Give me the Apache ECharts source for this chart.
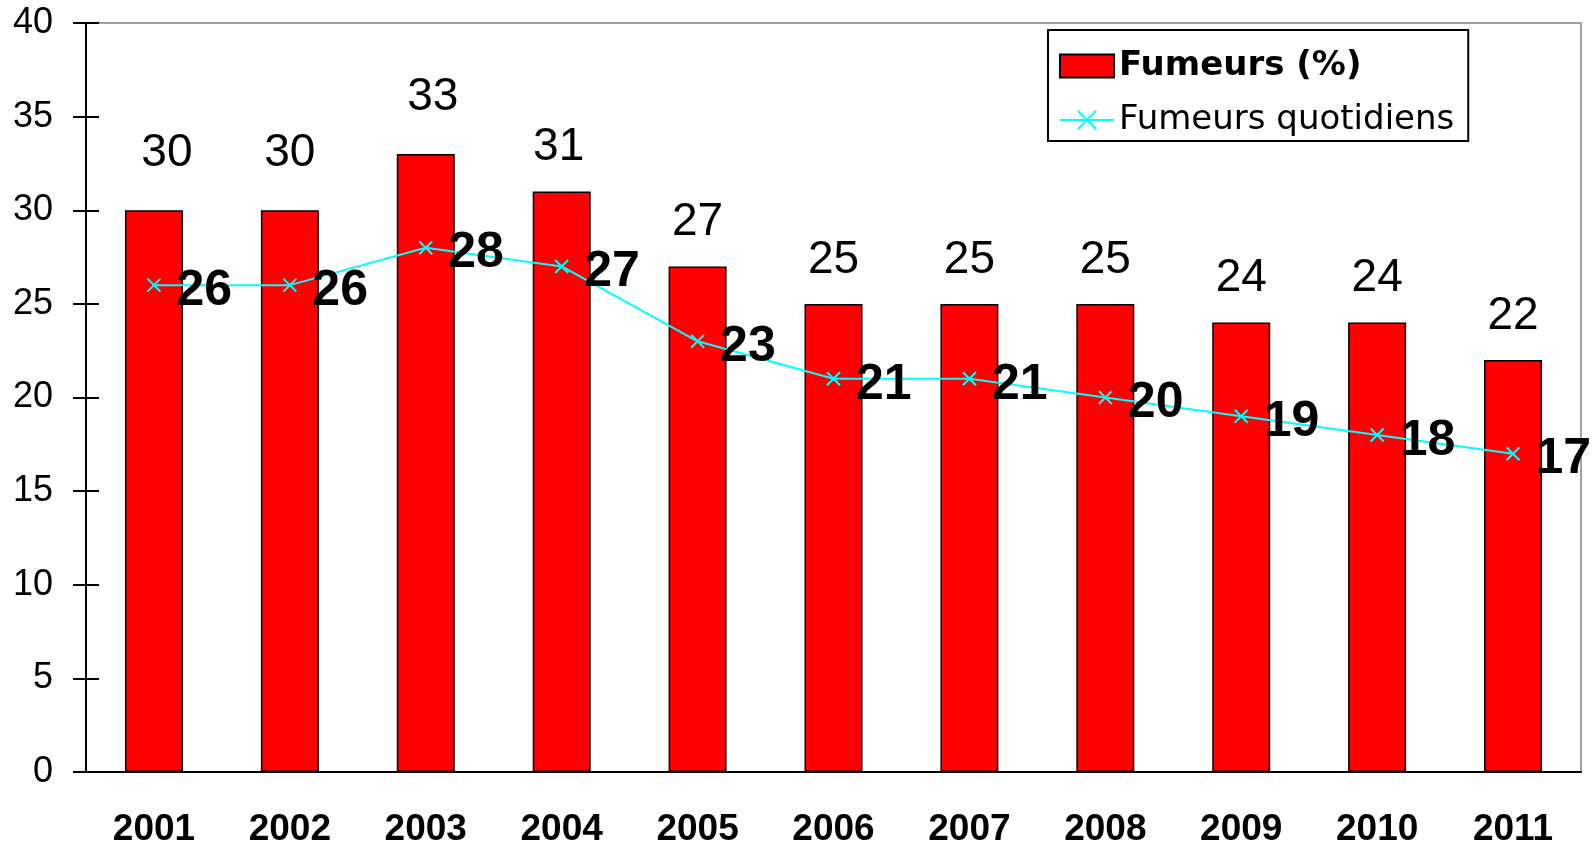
<!DOCTYPE html>
<html>
<head>
<meta charset="utf-8">
<script src="https://cdn.jsdelivr.net/npm/echarts@6/dist/echarts.min.js"></script>
<style>
  html, body { margin: 0; padding: 0; background: #fff; }
  #chart { width: 1593px; height: 848px; }
</style>
</head>
<body>
<div id="chart"></div>
<script>
var years = ['2001', '2002', '2003', '2004', '2005', '2006', '2007', '2008', '2009', '2010', '2011']
var fumeurs = [30, 30, 33, 31, 27, 25, 25, 25, 24, 24, 22]
var quotidiens = [26, 26, 28, 27, 23, 21, 21, 20, 19, 18, 17]

// label nudges as placed in the original (pixels)
var barLabelShift = [[13, -13], [0, -13], [7, -13], [-3, 0], [0, 0], [0, 0], [0, 0], [0, 0], [0, 0], [0, 0], [0, 0]]

var font = '"Liberation Sans", Arial, sans-serif'
var myChart = echarts.init(document.getElementById('chart'))

var barData = fumeurs.map(function (v, i) {
  return { value: v, label: { offset: barLabelShift[i] } }
})

var option = {
  animation: false,
  backgroundColor: '#fff',
  grid: {
    left: 86,
    right: 12,
    top: 23,
    bottom: 76,
    show: true,
    borderColor: '#a0a0a0',
    borderWidth: 2
  },
  legend: {
    orient: 'vertical',
    left: 1048,
    top: 30,
    padding: [19, 14, 4, 11],
    itemGap: 20,
    itemWidth: 54,
    itemHeight: 23,
    itemTextGap: 22,
    borderColor: '#000',
    borderWidth: 2,
    backgroundColor: '#fff',
    textStyle: {
      fontFamily: '"DejaVu Sans", sans-serif',
      fontSize: 34,
      lineHeight: 34,
      color: '#000'
    },
    data: [
      { name: 'Fumeurs (%)', icon: 'rect', textStyle: { fontWeight: 'bold' } },
      { name: 'Fumeurs quotidiens' }
    ]
  },
  xAxis: [
    {
      type: 'category',
      data: years,
      axisLine: { lineStyle: { color: '#000', width: 2 } },
      axisTick: { length: 13, lineStyle: { color: '#000', width: 2 } },
      axisLabel: {
        margin: 39,
        fontFamily: font,
        fontSize: 37,
        fontWeight: 'bold',
        color: '#000'
      }
    },
    {
      type: 'category',
      data: years,
      position: 'bottom',
      axisLine: { show: false },
      axisTick: { inside: true, length: 12, lineStyle: { color: '#000', width: 2 } },
      axisLabel: { show: false }
    }
  ],
  yAxis: [
    {
      type: 'value',
      min: 0,
      max: 40,
      interval: 5,
      splitLine: { show: false },
      axisLine: { show: true, lineStyle: { color: '#000', width: 2 } },
      axisTick: { show: true, length: 13, lineStyle: { color: '#000', width: 2 } },
      axisLabel: {
        margin: 33,
        fontFamily: font,
        fontSize: 36,
        color: '#000'
      }
    },
    {
      type: 'value',
      min: 0,
      max: 40,
      interval: 5,
      position: 'left',
      splitLine: { show: false },
      axisLine: { show: false },
      axisTick: { show: true, inside: true, length: 13, lineStyle: { color: '#000', width: 2 } },
      axisLabel: { show: false }
    }
  ],
  series: [
    {
      name: 'Fumeurs (%)',
      type: 'bar',
      data: barData,
      barWidth: 58,
      itemStyle: { color: '#ff0000', borderColor: '#000', borderWidth: 1.5 },
      label: {
        show: true,
        position: 'top',
        distance: 21,
        fontFamily: font,
        fontSize: 46,
        color: '#000'
      }
    },
    {
      name: 'Fumeurs quotidiens',
      type: 'line',
      data: quotidiens,
      z: 5,
      symbol: 'path://M0,0L10,10M10,0L0,10',
      symbolSize: 13,
      lineStyle: { color: '#00ffff', width: 2 },
      itemStyle: { color: '#00ffff', borderColor: '#00ffff', borderWidth: 2 },
      label: {
        show: true,
        position: 'right',
        distance: 15,
        offset: [0, 6],
        fontFamily: font,
        fontSize: 50,
        fontWeight: 'bold',
        color: '#000'
      }
    }
  ]
}
myChart.setOption(option, true)
</script>
</body>
</html>
